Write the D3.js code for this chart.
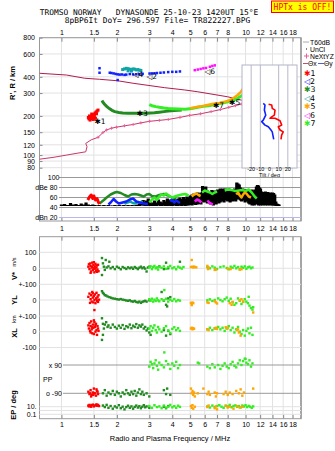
<!DOCTYPE html>
<html><head><meta charset="utf-8">
<script src="https://cdn.jsdelivr.net/npm/d3@7"></script>
<style>body{margin:0;background:#fff}svg{display:block}</style>
</head><body>
<script>
// ---------- DATA ----------
const freqTicks=[1,1.5,2,3,4,5,6,7,8,10,12,14,16,18];
const freqLabels=["1","1.5","2","3","4","5","6","7","8","10","12","14","16","18"];
const heightTicks=[80,90,100,120,150,200,300,400,600,800];
const legendNames=["✱1","◁2","✱3","◁4","✱5","◁6","✱7"];
const legendColors=["#ff0000","#1020ff","#228b22","#10a5a5","#ffa500","#ff10ff","#33ee22"];

// electron density profile (plasma frequency MHz, true height km)
const profileBottom=[[0.76,93],[0.9,96],[1.065,100],[1.2,103],[1.355,106],[1.377,116],[1.355,123],[1.45,131],[1.58,137],[1.68,149],[1.755,156],[1.87,161],[1.99,164],[2.2,168],[2.45,172],[2.7,177],[3.01,182],[3.4,185],[3.8,188],[4.4,195],[4.97,202],[5.7,208],[6.5,216],[7.3,224],[8.1,233],[8.8,240],[9.48,247],[9.88,251],[9.96,257]];
const profileTop=[[9.96,257],[9.48,265],[7.99,281],[5.5,307],[4.67,317],[3.64,330],[2.45,357],[2.02,373],[1.61,383],[1.338,390],[1.065,413],[0.76,426]];

// echo traces (frequency MHz, virtual height km)
const tr1=[[1.40,195],[1.42,200],[1.44,193],[1.45,198],[1.46,190],[1.47,203],[1.48,196],[1.50,205],[1.51,200],[1.52,210],[1.54,214],[1.56,218],[1.58,222],[1.49,188],[1.43,186],[1.53,192],[1.41,190],[1.55,208],[1.46,207],[1.50,194]];
const tr2=[[1.61,466],[1.61,430],[2.02,378],[1.83,430],[1.87,428],[1.92,425],[1.97,421],[2.02,418],[2.07,416],[2.13,417],[2.2,414],[2.25,416],[2.35,420],[2.45,418],[2.55,418],[2.65,420],[2.76,422],[3.01,424],[3.1,425],[3.2,426],[3.3,428],[3.45,430],[3.6,432],[3.8,435],[4.0,437],[4.2,437],[4.4,440]];
const tr3=[[1.66,263],[1.68,255],[1.72,245],[1.76,237],[1.82,228],[1.88,221],[1.95,216],[2.05,213],[2.15,211],[2.3,210],[2.45,210],[2.6,210],[2.75,210],[2.9,210],[3.05,211],[3.2,212],[3.4,214],[3.6,216],[3.8,218],[4.1,220],[4.5,222]];
const tr4=[[2.15,455],[2.2,460],[2.25,465],[2.3,462],[2.35,458],[2.4,455],[2.45,460],[2.5,458],[2.55,452],[2.6,455],[2.65,450],[2.7,448],[2.3,445],[2.4,443]];
const tr5=[[5.0,229],[5.4,234],[5.8,238],[6.2,243],[6.7,248],[7.2,252],[7.7,257],[8.2,265],[8.6,275],[9.05,290],[9.4,305],[9.7,325],[9.9,340],[10.1,357]];
const tr6=[[5.3,450],[5.5,455],[5.7,460],[5.9,465],[6.1,468],[6.4,478],[6.6,485],[6.8,490]];
const tr7=[[3.0,245],[3.1,240],[3.25,236],[3.4,233],[3.6,230],[3.8,228],[4.0,227],[4.3,226],[4.7,225],[5.1,228],[5.5,233],[5.9,237],[6.3,240],[6.7,244],[7.1,248],[7.5,252],[8.0,257],[8.5,263],[8.9,270],[9.3,280],[9.7,292],[10.0,305],[10.3,320],[10.6,340],[10.9,365]];
const traceLabels=[["✱1",1.57,183],["◁4",2.53,421],["◁2",3.01,406],["◁6",6.22,440],["✱3",2.66,211],["✱7",6.9,243],["✱5",8.45,258]];

// tilt inset (deg, height km)
const tiltX=[[-1,246],[2.4,243],[3,229],[6,222],[5.3,203],[2.4,197],[0.5,192],[6,192],[11.5,184],[13.3,170],[9.6,165],[11.5,156],[15,151],[13.3,143],[12.5,132]];
const tiltY=[[-6.8,250],[-4.9,243],[-5.6,222],[-4.1,203],[-6.8,186],[-8.5,181],[-4.9,170],[-1.3,165],[1.6,156],[3,151],[4.6,132]];
const tiltTicks=[-20,-10,0,10,20];

// amplitude panel (dB)
const dbTicks=[100,80,60,40,20];
const dbLabels=["100","dBe 80","60","40","dBn 20"];
const ampNoise=[[1.00,43,46],[1.04,43,47],[1.08,43,45],[1.12,43,49],[1.16,43,46],[1.20,43,47],[1.24,43,45],[1.28,43,48],[1.32,43,46],[1.36,43,50],[1.40,43,46],[1.44,43,45],[1.48,43,46],[1.52,43,45],[1.56,43,44],[1.60,43,45],[1.65,43,44],[1.70,43,45],[1.75,43,44],[1.80,43,45],[1.85,43,44],[1.90,43,44],[1.95,43,45],[2.00,43,44],[2.06,43,45],[2.12,43,44],[2.18,43,45],[2.24,43,44],[2.30,43,45],[2.36,43,44],[2.42,43,45],[2.48,43,44],[2.54,43,45],[2.60,43,46],[2.66,43,48],[2.72,44,52],[2.78,44,55],[2.84,43,50],[2.90,43,54],[2.96,44,58],[3.02,43,52],[3.08,43,48],[3.14,44,50],[3.20,43,54],[3.28,43,50],[3.36,44,56],[3.44,43,52],[3.52,43,50],[3.60,44,55],[3.68,43,52],[3.76,43,58],[3.84,44,54],[3.92,43,56],[4.00,43,58],[4.10,44,60],[4.20,43,56],[4.30,43,58],[4.40,44,60],[4.50,43,57],[4.60,44,61],[4.70,43,58],[4.80,44,62],[4.90,44,60],[5.00,45,64],[5.12,44,66],[5.24,46,68],[5.36,45,66],[5.48,46,70],[5.60,47,68],[5.72,46,70],[5.84,52,83],[5.96,50,80],[6.08,52,82],[6.20,48,74],[6.32,50,72],[6.44,46,70],[6.56,48,75],[6.68,44,72],[6.80,50,74],[6.92,46,70],[7.04,52,76],[7.16,48,75],[7.28,50,78],[7.40,54,77],[7.52,52,78],[7.64,50,76],[7.76,56,78],[7.88,54,74],[8.00,52,76],[8.12,56,78],[8.24,50,75],[8.36,54,77],[8.48,52,74],[8.60,56,76],[8.72,54,78],[8.84,52,76],[8.96,56,90],[9.10,58,88],[9.24,56,86],[9.38,54,80],[9.52,52,76],[9.66,56,78],[9.80,54,75],[9.94,50,77],[10.1,52,74],[10.25,54,76],[10.4,48,75],[10.55,46,74],[10.7,50,73],[10.85,44,76],[11.0,46,72],[11.15,44,74],[11.3,48,76],[11.45,46,82],[11.6,48,85],[11.75,44,84],[11.9,46,80],[12.05,44,78],[12.2,46,72],[12.4,44,70],[12.6,48,71],[12.8,44,72],[13.0,46,70],[13.2,44,71],[13.4,48,69],[13.6,44,70],[13.8,46,68],[14.0,44,70],[14.2,44,69],[14.4,46,66],[14.6,43,52],[14.8,44,48],[15.0,43,47],[15.2,43,46]];
const amp1=[[1.39,55],[1.42,61],[1.45,65],[1.48,58],[1.50,63],[1.53,55],[1.56,58],[1.59,50],[1.61,47]];
const amp2=[[1.80,46],[1.85,50],[1.92,57],[1.98,52],[2.05,48],[2.15,50],[2.25,52],[2.35,56],[2.45,58],[2.55,52],[2.65,50],[2.8,48],[2.95,47],null,[3.9,52],[4.0,56],[4.1,50],[4.2,54],[4.4,49]];
const amp3=[[1.61,48],[1.70,55],[1.76,60],[1.85,66],[1.95,70],[2.0,71],[2.1,69],[2.2,65],[2.3,62],[2.4,66],[2.5,67],[2.6,66],[2.7,64],[2.8,62],[2.9,66],[3.0,67],[3.1,63],[3.25,62],[3.4,65],[3.6,67],[3.8,64],[4.0,60],[4.2,58]];
const amp4=[[2.2,47],[2.28,50],[2.36,52],[2.44,49],[2.52,48],[2.6,51],[2.68,50],[2.76,53]];
const amp5=[[5.1,62],[5.25,66],[5.4,68],[5.55,65],[5.7,63],null,[8.9,66],[9.1,70],[9.3,64],[9.5,60],[9.7,66],[9.9,70],[10.1,68],[10.4,62],[10.7,60]];
const amp6=[[5.3,52],[5.45,56],[5.6,54],[5.75,50],null,[6.2,54],[6.35,50],[6.5,48],[6.65,46]];
const amp7=[[3.0,50],[3.1,56],[3.2,60],[3.3,55],[3.4,62],[3.5,66],[3.6,64],[3.7,68],[3.8,65],[3.9,62],[4.0,60],[4.2,63],[4.5,66],[4.7,67],[4.9,64],null,[5.8,70],[6.0,74],[6.2,72],[6.4,70],[6.6,67],[6.8,70],[7.0,72],null,[7.7,74],[8.0,76],[8.4,75],[8.8,73],[9.2,74],[9.6,75],[10.0,73],[10.4,76],[10.8,70],[11.2,62],[11.5,58]];

// Doppler velocity V* (m/s)
const v1=[[1.40,10],[1.41,25],[1.42,-5],[1.43,30],[1.44,15],[1.45,-20],[1.46,5],[1.47,35],[1.48,-10],[1.49,20],[1.50,0],[1.51,-25],[1.52,12],[1.53,28],[1.54,-15],[1.55,5],[1.56,18],[1.57,-8],[1.58,22],[1.59,-18],[1.44,-28],[1.47,8],[1.52,-2],[1.56,-22],[1.50,38]];
const v3=[[1.66,64],[1.74,52],[1.82,41],[1.68,31],[1.70,10],[1.72,-10],[1.66,-42],[1.76,5],[1.80,12],[1.85,0],[1.90,8],[1.95,-5],[2.0,10],[2.05,3],[2.1,-6],[2.15,8],[2.2,2],[2.25,-4],[2.3,6],[2.35,0],[2.4,5],[2.45,-3],[2.5,8],[2.55,2],[2.6,-5],[2.65,4],[2.7,10],[2.75,0],[2.8,6],[2.85,-2],[2.9,-20],[2.95,5],[3.0,10],[3.4,12],[3.6,-5],[3.7,35],[3.8,0],[4.4,41]];
const v5=[[5.1,52],[5.05,8],[5.15,10],[5.2,5],[5.25,10],[5.3,8],[5.4,6],[6.2,15],[6.25,-5],[6.3,5],[6.8,-10],[6.9,-8],[8.0,-2],[8.3,-5],[9.3,-8],[9.5,-6]];
const v7=[[3.0,5],[3.05,12],[3.1,-5],[3.15,8],[3.2,15],[3.25,0],[3.3,6],[3.35,-8],[3.4,10],[3.5,3],[3.6,12],[3.7,-3],[3.8,8],[3.9,15],[4.0,0],[4.1,6],[4.2,-6],[4.3,10],[4.4,4],[4.5,-2],[4.6,8],[6.2,8],[6.4,0],[6.6,12],[6.8,4],[7.0,-4],[7.3,8],[7.6,12],[7.9,2],[8.1,-6],[8.3,10],[8.5,4],[8.7,15],[8.9,0],[9.1,8],[9.3,-5],[9.5,10],[9.7,3],[9.9,12],[10.1,-3],[10.3,6],[10.5,10],[10.7,0],[10.9,5]];
// YL (km)
const yl1=[[1.40,20],[1.42,40],[1.44,5],[1.45,30],[1.46,-10],[1.47,50],[1.48,15],[1.49,-15],[1.50,25],[1.51,0],[1.52,35],[1.53,-20],[1.54,10],[1.55,45],[1.56,-5],[1.57,20],[1.58,-12],[1.59,30],[1.43,-18],[1.48,42],[1.55,8],[1.60,2]];
const yl3=[[1.66,55],[1.68,45],[1.70,38],[1.72,30],[1.75,28],[1.78,22],[1.82,18],[1.86,14],[1.9,10],[1.95,8],[2.0,5],[2.05,3],[2.1,6],[2.15,2],[2.2,0],[2.25,-3],[2.3,-5],[2.35,-2],[2.4,-8],[2.45,-10],[2.5,-6],[2.55,-12],[2.6,-15],[2.65,-10],[2.7,-18],[2.75,-12],[2.8,-8],[2.85,-5],[2.9,-10],[3.0,-2],[3.6,-5],[3.7,-30],[3.75,-40],[3.8,10],[3.9,18],[3.5,50]];
const yl5=[[5.05,-18],[5.1,-22],[5.15,-16],[5.2,-20],[5.1,-32],[6.2,-15],[6.3,-18],[6.8,-8],[6.9,-15],[7.0,-22],[8.2,-20],[8.4,-30],[8.5,-12],[9.3,-2],[9.5,5],[9.7,-10],[11.0,-78]];
const yl7=[[3.0,5],[3.05,-5],[3.1,8],[3.15,-10],[3.2,2],[3.25,-6],[3.3,10],[3.35,-2],[3.4,-8],[3.5,5],[3.6,-3],[3.7,8],[3.8,-10],[3.9,2],[4.0,-5],[4.1,6],[4.2,-8],[4.3,0],[4.4,-4],[6.2,-2],[6.4,4],[6.6,-6],[6.8,0],[7.1,10],[7.3,0],[7.5,-8],[7.7,5],[7.9,15],[8.1,-5],[8.3,8],[8.5,-15],[8.7,-30],[8.9,-20],[9.1,10],[9.3,-5],[9.5,-25],[9.7,-12],[9.9,5],[10.1,-10],[10.3,-20],[10.5,-35],[10.7,-50],[10.9,-60],[11.0,-45],[10.4,20],[3.62,62]];
// XL (km)
const xl1=[[1.40,40],[1.41,20],[1.42,55],[1.43,5],[1.44,35],[1.45,65],[1.46,15],[1.47,-10],[1.48,45],[1.49,25],[1.50,-15],[1.51,60],[1.52,30],[1.53,0],[1.54,50],[1.55,10],[1.56,-20],[1.57,35],[1.58,20],[1.59,5],[1.44,-5],[1.50,72],[1.53,42],[1.47,28],[1.51,137]];
const xl3=[[1.66,85],[1.68,50],[1.70,20],[1.68,-20],[1.66,-52],[1.72,45],[1.75,60],[1.78,30],[1.8,40],[1.85,25],[1.9,45],[1.95,30],[2.0,20],[2.05,38],[2.1,25],[2.15,42],[2.2,18],[2.25,35],[2.3,28],[2.35,45],[2.4,22],[2.45,38],[2.5,30],[2.55,48],[2.6,25],[2.65,40],[2.7,32],[2.75,45],[2.8,20],[2.85,30],[2.9,8],[2.95,20],[3.0,-5],[3.05,-20],[3.6,10],[3.7,-25],[3.8,5],[3.9,-15]];
const xl5=[[5.05,20],[5.1,25],[5.15,15],[5.2,22],[5.25,18],[6.2,15],[6.3,10],[6.8,22],[6.9,25],[7.0,18],[7.8,28],[7.9,25],[8.0,22],[9.0,10],[9.2,-5],[9.4,-25],[9.1,15]];
const xl7=[[3.0,20],[3.05,35],[3.1,5],[3.15,25],[3.2,40],[3.25,10],[3.3,-5],[3.35,30],[3.4,15],[3.5,0],[3.6,22],[3.7,35],[3.8,8],[3.9,-8],[4.0,18],[4.1,28],[4.2,10],[4.3,22],[4.4,5],[6.2,15],[6.4,25],[6.6,10],[6.8,20],[7.1,30],[7.3,15],[7.5,25],[7.7,5],[7.9,20],[8.1,35],[8.3,10],[8.5,25],[8.7,-5],[8.9,15],[9.1,30],[9.3,0],[9.5,-15],[9.7,10],[9.9,-25],[10.1,5],[10.3,20],[10.5,-10],[10.7,25],[10.9,-20],[3.62,-131],[10.0,-172]];
// polarization PP (deg)
const pp1=[[1.40,-80],[1.42,-95],[1.44,-70],[1.46,-100],[1.48,-85],[1.50,-60],[1.52,-90],[1.54,-105],[1.56,-75],[1.58,-95],[1.45,-110],[1.50,-88],[1.55,-65],[1.43,-90],[1.57,-80],[1.49,-100]];
const pp3=[[1.68,-90],[1.72,-70],[1.76,-105],[1.8,-85],[1.85,-95],[1.9,-75],[1.95,-100],[2.0,-80],[2.05,-90],[2.1,-110],[2.15,-85],[2.2,-95],[2.25,-70],[2.3,-90],[2.35,-100],[2.4,-80],[2.45,-95],[2.5,-75],[2.55,-105],[2.6,-85],[2.65,-65],[2.7,-95],[2.75,-80],[2.8,-100],[2.9,-90],[3.0,-110],[3.6,-70],[3.7,-95],[3.75,-60],[3.9,-100]];
const pp5=[[5.05,-60],[5.1,-90],[5.15,-75],[5.2,-100],[5.25,-85],[5.3,-110],[5.5,-90],[5.9,-60],[6.2,-95],[6.3,-80],[6.4,-100],[6.8,-85],[6.9,-110],[7.0,-90],[7.6,-95],[7.8,-80],[8.0,-100],[8.2,-85],[8.5,-95],[8.9,-75],[9.2,-90],[9.4,-65],[9.6,-105],[9.8,-85],[11.0,-60]];
const pp7=[[3.0,80],[3.05,110],[3.1,95],[3.15,70],[3.2,100],[3.25,120],[3.3,85],[3.35,60],[3.4,105],[3.5,90],[3.6,75],[3.7,115],[3.8,95],[3.9,65],[4.0,100],[4.1,85],[4.2,110],[4.3,70],[4.4,90],[5.5,105],[5.6,100],[6.2,80],[6.4,70],[6.6,95],[6.8,75],[7.1,90],[7.3,65],[7.5,85],[7.7,100],[7.9,80],[8.1,70],[8.3,95],[8.5,110],[8.7,85],[8.9,75],[9.1,100],[9.3,120],[9.5,90],[9.7,115],[9.9,130],[10.1,105],[10.3,95],[10.5,120],[10.7,80],[10.9,100]];
// EP (deg)
const ep1=[[1.40,20],[1.42,30],[1.44,15],[1.46,25],[1.48,35],[1.50,12],[1.52,22],[1.54,28],[1.56,18],[1.58,30],[1.60,15],[1.45,10],[1.55,40],[1.41,12]];
const ep3=[[1.68,20],[1.72,8],[1.76,30],[1.8,5],[1.85,15],[1.9,3],[1.95,12],[2.0,6],[2.05,25],[2.1,4],[2.15,10],[2.2,2],[2.25,8],[2.3,18],[2.35,5],[2.4,12],[2.45,3],[2.5,9],[2.55,20],[2.6,6],[2.65,14],[2.7,4],[2.75,10],[2.8,25],[2.85,7],[2.9,12],[3.0,5],[3.6,10],[3.7,4],[3.8,15]];
const ep5=[[5.05,15],[5.1,5],[5.15,25],[5.2,3],[5.3,10],[6.2,8],[6.3,20],[6.8,4],[6.9,12],[7.0,2],[7.8,18],[8.0,6],[8.2,10],[8.6,3],[9.0,14],[9.3,6],[9.6,9]];
const ep7=[[3.0,15],[3.1,5],[3.2,25],[3.3,8],[3.4,12],[3.5,4],[3.6,20],[3.7,6],[3.8,10],[3.9,30],[4.0,7],[4.1,14],[4.2,5],[4.3,18],[4.4,9],[6.2,12],[6.4,6],[6.6,20],[6.8,8],[7.0,15],[7.2,25],[7.4,10],[7.6,5],[7.8,18],[8.0,12],[8.2,30],[8.4,7],[8.6,15],[8.8,22],[9.0,9],[9.2,14],[9.4,6],[9.6,20],[9.8,11],[10.0,25],[10.2,8],[10.4,16],[10.6,10],[10.8,5],[11.0,12]];

// ---------- DRAW ----------
const W=335,H=451,L=39.5,R=301;
const svg=d3.select("body").append("svg").attr("width",W).attr("height",H)
  .style("font-family","'Liberation Sans',Arial,sans-serif");
const x=d3.scaleLog().domain([0.76,20]).range([L,R]);
const yH=d3.scaleLog().domain([80,800]).range([167.7,37.7]);
const yDB=d3.scaleLinear().domain([20,100]).range([217.5,177.5]);
const yV=d3.scaleLinear().domain([-100,100]).range([284.3,252.3]);
const yYL=d3.scaleLinear().domain([-100,100]).range([316,284]);
const yXL=d3.scaleLinear().domain([-100,100]).range([347.5,315.9]);
const yPP=d3.scaleLinear().domain([-90,90]).range([393.3,365]);
const yEP=d3.scaleLog().domain([0.1,10]).range([414.3,406.7]);
const xT=d3.scaleLinear().domain([-30,30]).range([242,297]);
const T1=37.7,B1=221,T2=236.7,B2=418.7;
const GRID="#e2e2e2";
const col=legendColors;

const defs=svg.append("defs");
defs.append("clipPath").attr("id","cTop").append("rect").attr("x",L).attr("y",T1).attr("width",R-L).attr("height",135);
defs.append("clipPath").attr("id","cDb").append("rect").attr("x",59).attr("y",175).attr("width",R-59).attr("height",45);
defs.append("clipPath").attr("id","cLow").append("rect").attr("x",L).attr("y",T2).attr("width",R-L).attr("height",B2-T2);

// title
svg.append("text").attr("x",149).attr("y",14.5).attr("text-anchor","middle").style("white-space","pre")
  .attr("font-family","'DejaVu Sans Mono',monospace").attr("font-size",7.9).attr("fill","#000")
  .text("TROMSO NORWAY   DYNASONDE 25-10-23 1420UT 15°E");
svg.append("text").attr("x",157.5).attr("y",22.5).attr("text-anchor","middle").style("white-space","pre")
  .attr("font-family","'DejaVu Sans Mono',monospace").attr("font-size",7.9).attr("fill","#000")
  .text("8pBP6It DoY= 296.597 File= TR822227.BPG");
svg.append("rect").attr("x",271.5).attr("y",1).attr("width",62).attr("height",11.5).attr("fill","#ffff00").attr("stroke","#ff0000").attr("stroke-width",1);
svg.append("text").attr("x",302.5).attr("y",10.2).attr("text-anchor","middle").attr("font-family","'DejaVu Sans Mono',monospace").attr("font-size",8).attr("fill","#ff0000").text("HPTx is OFF!");

// vertical gridlines
[[T1,B1],[T2,B2]].forEach(([a,b])=>{
  svg.append("g").selectAll("line").data(freqTicks).enter().append("line")
    .attr("x1",d=>x(d)).attr("x2",d=>x(d)).attr("y1",a).attr("y2",b).attr("stroke",GRID).attr("stroke-width",1);
});
// horizontal gridlines top panel
svg.append("g").selectAll("line").data(heightTicks).enter().append("line")
  .attr("x1",L).attr("x2",R).attr("y1",d=>yH(d)).attr("y2",d=>yH(d)).attr("stroke",GRID);

// axes
function styleAxis(g){g.select(".domain").remove();g.selectAll("line").attr("stroke","#888");g.selectAll("text").attr("font-size",7).attr("fill","#000").attr("font-family","'Liberation Sans',Arial,sans-serif");}
svg.append("g").attr("transform",`translate(0,${T1})`).call(d3.axisTop(x).tickValues(freqTicks).tickFormat((d,i)=>freqLabels[i]).tickSize(-4).tickPadding(3)).call(styleAxis);
svg.append("g").attr("transform",`translate(0,${B1})`).call(d3.axisBottom(x).tickValues(freqTicks).tickFormat((d,i)=>freqLabels[i]).tickSize(-4).tickPadding(5.5)).call(styleAxis);
svg.append("g").attr("transform",`translate(0,${T2})`).call(d3.axisTop(x).tickValues(freqTicks).tickFormat("").tickSize(-4)).call(styleAxis);
svg.append("g").attr("transform",`translate(0,${B2})`).call(d3.axisBottom(x).tickValues(freqTicks).tickFormat((d,i)=>freqLabels[i]).tickSize(-4).tickPadding(3.5)).call(styleAxis);
svg.append("g").attr("transform",`translate(${L},0)`).call(d3.axisLeft(yH).tickValues(heightTicks).tickFormat(d3.format("d")).tickSize(-3).tickPadding(4.5)).call(styleAxis);

// frames
svg.append("rect").attr("x",L).attr("y",T1).attr("width",R-L).attr("height",B1-T1).attr("fill","none").attr("stroke","#999");
svg.append("rect").attr("x",L).attr("y",T2).attr("width",R-L).attr("height",B2-T2).attr("fill","none").attr("stroke","#999");
svg.append("line").attr("x1",R).attr("x2",R).attr("y1",T1).attr("y2",B1).attr("stroke","#999").attr("stroke-width",1.5);
svg.append("line").attr("x1",R).attr("x2",R).attr("y1",T2).attr("y2",B2).attr("stroke","#999").attr("stroke-width",1.5);

// helpers
function dots(g,data,ys,color,s){
  g.append("g").selectAll("rect").data(data).enter().append("rect")
   .attr("x",d=>x(d[0])-s/2).attr("y",d=>ys(d[1])-s/2).attr("width",s).attr("height",s).attr("fill",color);
}
function trace(g,data,xs,ys,color,w){
  g.append("path").datum(data).attr("d",d3.line().defined(d=>d!=null).x(d=>xs(d[0])).y(d=>ys(d[1])))
   .attr("fill","none").attr("stroke",color).attr("stroke-width",w).attr("stroke-linejoin","round");
}

// ---- top panel ----
const gTop=svg.append("g").attr("clip-path","url(#cTop)");
trace(gTop,profileTop,x,yH,"#b01c4c",1);
trace(gTop,profileBottom,x,yH,"#c8386a",1);
gTop.append("g").selectAll("path").data(profileBottom.filter(d=>d[1]>=135)).enter().append("path")
  .attr("d","M-1.5,0H1.5M0,-1.5V1.5").attr("transform",d=>`translate(${x(d[0])},${yH(d[1])})`)
  .attr("stroke","#e8609a").attr("stroke-width",1);
trace(gTop,tr3,x,yH,col[2],3);
trace(gTop,tr7,x,yH,col[6],3);
trace(gTop,tr5,x,yH,col[4],2.5);
dots(gTop,tr2,yH,col[1],2.5);
dots(gTop,tr4,yH,col[3],3);
dots(gTop,tr6,yH,col[5],2.5);
dots(gTop,tr1,yH,col[0],3);
gTop.append("g").selectAll("text").data(traceLabels).enter().append("text")
  .attr("x",d=>x(d[1])-3).attr("y",d=>yH(d[2])+3).attr("font-size",7.5).attr("font-family","'DejaVu Sans',sans-serif").attr("fill","#000").text(d=>d[0]);

// inset tilt
const gIn=svg.append("g");
gIn.append("rect").attr("x",xT(-30)).attr("y",65).attr("width",xT(30)-xT(-30)).attr("height",103).attr("fill","#fff").attr("stroke","#b4b4c8");
gIn.selectAll("line.t").data(tiltTicks.filter(d=>d!==0)).enter().append("line").attr("x1",d=>xT(d)).attr("x2",d=>xT(d)).attr("y1",65).attr("y2",168).attr("stroke","#b8b8c8");
gIn.selectAll("text.t").data(tiltTicks).enter().append("text").attr("x",d=>xT(d)).attr("y",171).attr("text-anchor","middle").attr("font-size",5.5).text(d=>d);
gIn.append("text").attr("x",xT(0)).attr("y",176.5).attr("text-anchor","middle").attr("font-size",5.5).text("Tilt / deg");
trace(gIn,tiltY,xT,yH,col[1],1.6);
trace(gIn,tiltX,xT,yH,col[0],1.6);

// legend
const lg=svg.append("g").attr("font-size",6.8);
lg.append("line").attr("x1",303).attr("x2",309).attr("y1",42).attr("y2",42).attr("stroke","#aaa");
lg.append("text").attr("x",310).attr("y",44.5).text("T60dB");
lg.append("rect").attr("x",306).attr("y",48.5).attr("width",1).attr("height",1).attr("fill","#000");
lg.append("text").attr("x",310).attr("y",51.5).text("UnCl");
lg.append("path").attr("d","M304,56H309M306.5,53.5V58.5").attr("stroke","#e8609a");
lg.append("text").attr("x",310).attr("y",58.5).text("NeXtYZ");
lg.append("line").attr("x1",303).attr("x2",308).attr("y1",63.5).attr("y2",63.5).attr("stroke","#c05070");
lg.append("text").attr("x",308).attr("y",66.3).attr("font-size",6.8).text("Θx");
lg.append("line").attr("x1",318).attr("x2",324).attr("y1",63.5).attr("y2",63.5).attr("stroke","#5060c0");
lg.append("text").attr("x",324).attr("y",66.3).attr("font-size",6.8).text("Θy");
legendNames.forEach((n,i)=>{
  const t=lg.append("text").attr("x",304).attr("y",75.5+i*8.4).attr("font-family","'DejaVu Sans',sans-serif").attr("font-size",7.8);
  t.append("tspan").attr("fill",col[i]).text(n[0]);
  t.append("tspan").attr("fill","#000").text(n.slice(1));
});

// y-axis title
svg.append("text").attr("transform","translate(15,83) rotate(-90)").attr("text-anchor","middle").attr("font-size",7.5).attr("font-weight","bold").text("R', R / km");

// ---- amplitude panel ----
const gDb=svg.append("g");
gDb.selectAll("line").data(dbTicks).enter().append("line").attr("x1",59).attr("x2",R).attr("y1",d=>yDB(d)).attr("y2",d=>yDB(d))
  .attr("stroke",d=>d===20?"#b8b8f0":"#999");
gDb.selectAll("text").data(dbTicks).enter().append("text").attr("x",(d,i)=>i===0?59.5:57.5).attr("y",d=>yDB(d)+2.5).attr("text-anchor","end").attr("font-size",7).text((d,i)=>dbLabels[i]);
const gDbD=svg.append("g").attr("clip-path","url(#cDb)");
gDbD.append("g").selectAll("rect").data(ampNoise).enter().append("rect")
  .attr("x",d=>x(d[0])-1.6).attr("width",3.2).attr("y",d=>yDB(d[2])).attr("height",d=>yDB(d[1])-yDB(d[2])).attr("fill","#000");
trace(gDbD,amp4,x,yDB,col[3],2.5);
trace(gDbD,amp2,x,yDB,col[1],2.5);
trace(gDbD,amp3,x,yDB,col[2],2.5);
trace(gDbD,amp7,x,yDB,col[6],2.5);
trace(gDbD,amp5,x,yDB,col[4],2.5);
trace(gDbD,amp6,x,yDB,col[5],2.5);
trace(gDbD,amp1,x,yDB,col[0],3);

// ---- lower panels ----
const lowLines=[[yV,100],[yV,0],[yV,-100],[yYL,0],[yYL,-100],[yXL,0],[yXL,-100],[yEP,10],[yEP,1],[yEP,0.1]];
svg.append("g").selectAll("line").data(lowLines).enter().append("line").attr("x1",L).attr("x2",R)
  .attr("y1",d=>d[0](d[1])).attr("y2",d=>d[0](d[1])).attr("stroke",GRID);
svg.append("g").selectAll("line").data([90,-90]).enter().append("line").attr("x1",63).attr("x2",R)
  .attr("y1",d=>yPP(d)).attr("y2",d=>yPP(d)).attr("stroke","#999");
function leftAxis(scale,vals,labels){
  svg.append("g").attr("transform",`translate(${L},0)`).call(d3.axisLeft(scale).tickValues(vals).tickFormat((d,i)=>labels[i]).tickSize(0).tickPadding(3)).call(styleAxis);
}
leftAxis(yV,[100,0,-100],["100","0","+-100"]);
leftAxis(yYL,[0,-100],["0","+-100"]);
leftAxis(yXL,[0,-100],["0","-100"]);
leftAxis(yEP,[10,0.1],["10.","0.1"]);
svg.append("g").selectAll("text").data([90,-90]).enter().append("text").attr("x",62).attr("y",d=>yPP(d)+2.5).attr("text-anchor","end").attr("font-size",7)
  .text(d=>d>0?"x 90":"o -90");
svg.append("text").attr("x",43).attr("y",381.5).attr("font-size",7).text("PP");

const gLow=svg.append("g").attr("clip-path","url(#cLow)");
const S=2.4;
[[v3,col[2]],[v7,col[6]],[v5,col[4]],[v1,col[0]]].forEach(([d,c])=>dots(gLow,d,yV,c,S));
[[yl3,col[2]],[yl7,col[6]],[yl5,col[4]],[yl1,col[0]]].forEach(([d,c])=>dots(gLow,d,yYL,c,S));
[[xl3,col[2]],[xl7,col[6]],[xl5,col[4]],[xl1,col[0]]].forEach(([d,c])=>dots(gLow,d,yXL,c,S));
[[pp3,col[2]],[pp7,col[6]],[pp5,col[4]],[pp1,col[0]]].forEach(([d,c])=>dots(gLow,d,yPP,c,S));
[[ep3,col[2]],[ep7,col[6]],[ep5,col[4]],[ep1,col[0]]].forEach(([d,c])=>dots(gLow,d,yEP,c,S));

// lower axis titles
function vlabel(xp,yp,txt,size,bold){
  svg.append("text").attr("transform",`translate(${xp},${yp}) rotate(-90)`).attr("text-anchor","middle").attr("font-size",size).attr("font-weight",bold?"bold":"normal").text(txt);
}
vlabel(17,276,"V*",7.5,true);
vlabel(16,262,"m/s",5.5,false);
vlabel(17,300,"YL",7.5,true);
vlabel(16,319,"km",5.5,false);
vlabel(17,333,"XL",7.5,true);
vlabel(16,405,"EP / deg",7.5,true);
svg.append("text").attr("x",170).attr("y",441).attr("text-anchor","middle").attr("font-size",7.5).text("Radio and Plasma Frequency / MHz");
</script>
</body></html>
